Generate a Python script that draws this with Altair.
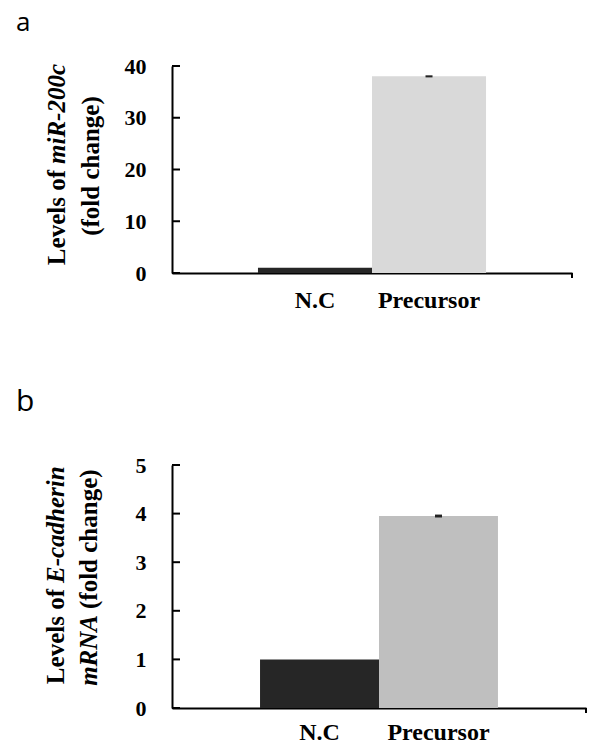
import altair as alt
import pandas as pd

categories = ["N.C", "Precursor"]
mir_values = [1.0, 38.0]
mir_errors = [0.0, 0.2]
ecad_values = [1.0, 3.95]
ecad_errors = [0.0, 0.03]
mir_colors = ["#262626", "#d9d9d9"]
ecad_colors = ["#262626", "#bfbfbf"]
mir_ticks = [0, 10, 20, 30, 40]
ecad_ticks = [0, 1, 2, 3, 4, 5]

SERIF = "Liberation Serif"
SANS = "Open Sans"


def one(text):
    return alt.Chart(pd.DataFrame({"t": [text]}))


def panel(values, errors, colors, ticks, ymax, width, height, po, xlabpad,
          letter, letter_y, letter_fs, line1, line2, l1x, l2x, s1, s2):
    df = pd.DataFrame({
        "cat": categories,
        "value": values,
        "lo": [v - e for v, e in zip(values, errors)],
        "hi": [v + e for v, e in zip(values, errors)],
        "color": colors,
    })
    xscale = alt.Scale(domain=categories, paddingInner=0, paddingOuter=po)
    yscale = alt.Scale(domain=[0, ymax], nice=False, zero=True)
    x = alt.X("cat:N", scale=xscale, title=None,
              axis=alt.Axis(labelAngle=0, ticks=False, domainWidth=2, domainColor="black",
                            labelFont=SERIF, labelFontWeight="bold", labelFontSize=24,
                            labelColor="black", labelPadding=xlabpad, grid=False))
    y = alt.Y("value:Q", scale=yscale, title=None,
              axis=alt.Axis(values=ticks, ticks=False, domainWidth=2, domainColor="black",
                            labelFont=SERIF, labelFontWeight="bold", labelFontSize=22,
                            labelColor="black", labelPadding=26, grid=False))
    bars = alt.Chart(df).mark_bar().encode(
        x=x, y=y, color=alt.Color("color:N", scale=None))
    err = alt.Chart(df).mark_bar(size=7, color="#222222").encode(
        x=alt.X("cat:N", scale=xscale), y=alt.Y("lo:Q", scale=yscale), y2="hi:Q")
    tdf = pd.DataFrame({"t": ticks})
    tick_rules = alt.Chart(tdf).mark_rule(strokeWidth=2, color="black").encode(
        y=alt.Y("t:Q", scale=yscale), x=alt.value(0), x2=alt.value(8))
    end_tick = one("e").mark_rule(strokeWidth=2, color="black").encode(
        x=alt.value(width), y=alt.value(height), y2=alt.value(height + 5))
    lab = one(letter).mark_text(font=SANS, fontSize=letter_fs, align="left", baseline="alphabetic",
                                color="black").encode(
        x=alt.value(-156), y=alt.value(letter_y), text="t:N")
    layers = [bars, err, tick_rules, end_tick, lab]
    n1, i1 = line1
    layers.append(one(n1).mark_text(font=SERIF, fontSize=25, fontWeight="bold", angle=270,
                                    align="right", baseline="middle", color="black").encode(
        x=alt.value(l1x), y=alt.value(s1 + 3), text="t:N"))
    layers.append(one(i1).mark_text(font=SERIF, fontSize=25, fontWeight="bold", fontStyle="italic",
                                    angle=270, align="left", baseline="middle", color="black").encode(
        x=alt.value(l1x), y=alt.value(s1 - 3), text="t:N"))
    i2, n2 = line2
    if i2:
        layers.append(one(i2).mark_text(font=SERIF, fontSize=25, fontWeight="bold", fontStyle="italic",
                                        angle=270, align="right", baseline="middle", color="black").encode(
            x=alt.value(l2x), y=alt.value(s2 + 3), text="t:N"))
        layers.append(one(n2).mark_text(font=SERIF, fontSize=25, fontWeight="bold",
                                        angle=270, align="left", baseline="middle", color="black").encode(
            x=alt.value(l2x), y=alt.value(s2 - 3), text="t:N"))
    else:
        layers.append(one(n2).mark_text(font=SERIF, fontSize=25, fontWeight="bold",
                                        angle=270, align="center", baseline="middle", color="black").encode(
            x=alt.value(l2x), y=alt.value(s2), text="t:N"))
    return alt.layer(*layers).properties(width=width, height=height)


pa = panel(mir_values, mir_errors, mir_colors, mir_ticks, 40, 400, 207, 0.754, 15,
           "a", -35, 26, ("Levels of", "miR-200c"), (None, "(fold change)"), -115, -81, 101, 100)
pb = panel(ecad_values, ecad_errors, ecad_colors, ecad_ticks, 5, 414, 243, 0.74, 12,
           "b", -54, 30, ("Levels of", "E-cadherin"), ("mRNA", "(fold change)"), -116, -83, 121, 147)

chart = alt.vconcat(pa, pb, spacing=75).properties(
    padding={"left": 8, "top": 2, "right": 0, "bottom": 0}
).configure_view(stroke=None)

chart.save("out.html", embed_options={"renderer": "svg", "actions": False})
